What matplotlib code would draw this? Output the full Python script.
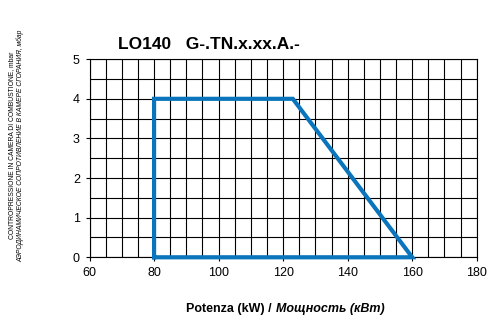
import matplotlib.pyplot as plt
import numpy as np

# working field outline (kW, mbar)
power_kw = [80, 80, 123, 160, 80]
pressure_mbar = [0, 4, 4, 0, 0]

x_ticks = [60, 80, 100, 120, 140, 160, 180]
y_ticks = [0, 1, 2, 3, 4, 5]

plt.rcParams['font.family'] = ['Liberation Sans', 'DejaVu Sans']

fig = plt.figure(figsize=(4.92, 3.2), dpi=100)
ax = fig.add_axes([0.182, 0.196, 0.787, 0.619])

ax.set_xlim(60, 180)
ax.set_ylim(0, 5)
ax.set_xticks(x_ticks)
ax.set_yticks(y_ticks)
ax.set_xticks(np.arange(60, 181, 5), minor=True)
ax.set_yticks(np.arange(0, 5.01, 0.5), minor=True)
ax.grid(True, which='both', color='black', linewidth=0.8)
ax.tick_params(which='minor', length=0)
ax.tick_params(which='major', length=3, width=0.8, labelsize=9, pad=4)
for s in ax.spines.values():
    s.set_linewidth(0.8)

ax.plot(power_kw, pressure_mbar, color='#0a75bc', linewidth=3, solid_joinstyle='miter', zorder=5, clip_on=False)

fig.text(0.24, 0.86, "LO140   G-.TN.x.xx.A.-", fontsize=12.5, fontweight='bold', ha='left', va='center')

fig.text(0.023, 0.545, "CONTROPRESSIONE IN CAMERA DI COMBUSTIONE, mbar", rotation=90,
         fontsize=4.9, ha='center', va='center')
fig.text(0.041, 0.545, "АЭРОДИНАМИЧЕСКОЕ СОПРОТИВЛЕНИЕ В КАМЕРЕ СГОРАНИЯ, мбар", rotation=90,
         fontsize=4.9, style='italic', ha='center', va='center')

fig.text(0.56, 0.035, "Potenza (kW) / ", fontsize=9, fontweight='bold', ha='right', va='center')
fig.text(0.56, 0.035, "Мощность (кВт)", fontsize=9, fontweight='bold', style='italic', ha='left', va='center')

fig.savefig("out.png", dpi=100)
